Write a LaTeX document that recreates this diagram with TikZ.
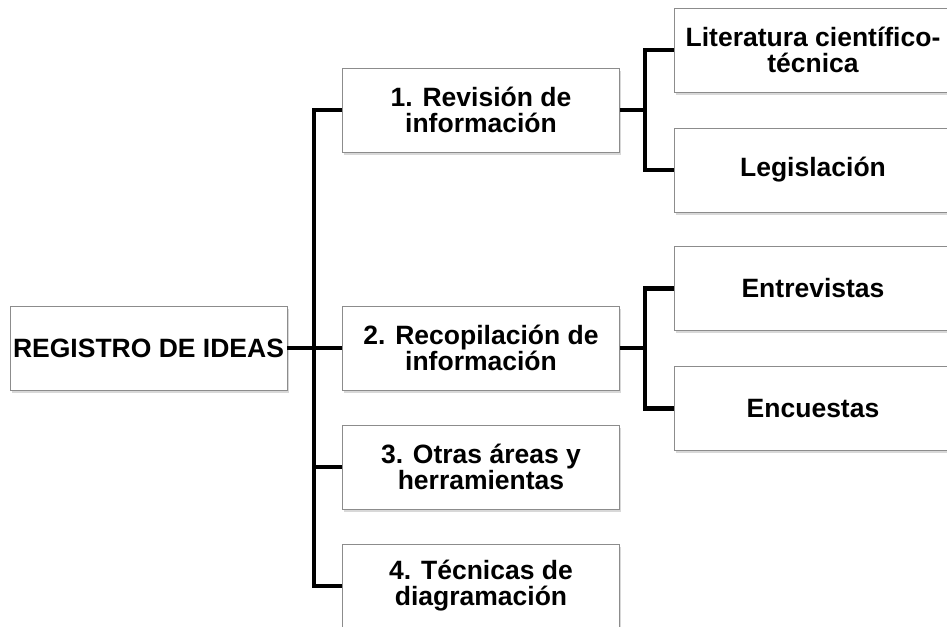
\documentclass[tikz,border=0pt]{standalone}
\usepackage{fontspec}
\setmainfont{Liberation Sans}
\usetikzlibrary{shadows}

\begin{document}
\begin{tikzpicture}[x=1pt,y=-1pt]
        \tikzstyle{caja}=[rectangle, draw=black!45, line width=0.8pt, fill=white,
            drop shadow={shadow xshift=1.5pt, shadow yshift=-2.5pt, fill=black!30},
            align=center, inner sep=2pt, minimum width=277pt, minimum height=84pt,
            font=\bfseries\fontsize{26.5}{26}\selectfont]
        \tikzstyle{rama}=[line width=4.5pt, line join=miter]

        \useasboundingbox (0,0) rectangle (947,626);
        \clip (0,0) rectangle (947,626);

        \node[caja] (raiz) at (148.5,348) {REGISTRO DE IDEAS};

        \node[caja] (rev) at (481,110) {1. Revisión de\\información};
        \node[caja] (rec) at (481,348) {2. Recopilación de\\información};
        \node[caja] (otr) at (481,467) {3. Otras áreas y\\herramientas};
        \node[caja] (tec) at (481,586) {4. Técnicas de\\diagramación};

        \node[caja] (lit) at (813,50)    {Literatura científico-\\técnica};
        \node[caja] (leg) at (813,170)   {Legislación};
        \node[caja] (ent) at (813,288.5) {Entrevistas};
        \node[caja] (enc) at (813,408.5) {Encuestas};

        \coordinate (t1) at (314,0);
        \coordinate (t2) at (645,0);

        \draw[rama] (raiz.east) -- (rec.west);
        \draw[rama] (rev.west) -| (t1 |- tec.west) -- (tec.west);
        \draw[rama] (t1 |- otr.west) -- (otr.west);

        \draw[rama] (rev.east) -- (t2 |- rev.east);
        \draw[rama] (lit.west) -| (t2 |- leg.west) -- (leg.west);
        \draw[rama] (rec.east) -- (t2 |- rec.east);
        \draw[rama] (ent.west) -| (t2 |- enc.west) -- (enc.west);
    \end{tikzpicture}
\end{document}
